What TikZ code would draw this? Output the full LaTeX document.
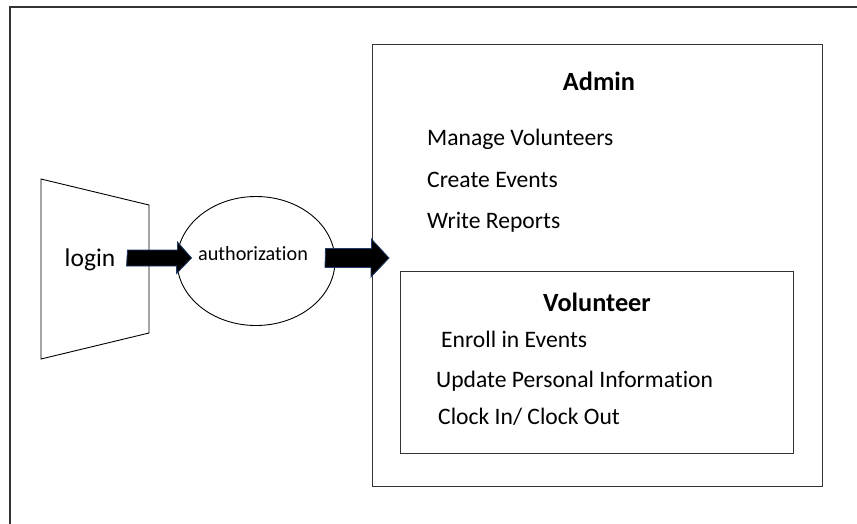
\documentclass[tikz,border=0pt]{standalone}
\usepackage{fontspec}
\setmainfont{Carlito}[RawFeature=-liga]
\usetikzlibrary{shapes.geometric,arrows.meta}
\definecolor{edge}{HTML}{333333}
\definecolor{navy}{HTML}{1F3A6B}
\tikzset{
  frame/.style={draw=edge, line width=1.5pt},
  boxline/.style={draw=edge, line width=1.3pt},
  thin/.style={draw=black, line width=0.9pt},
  item/.style={anchor=base west, inner sep=0pt, font=\fontsize{23.6}{27}\selectfont},
  title/.style={anchor=base, inner sep=0pt, font=\fontsize{26.3}{30}\selectfont\bfseries},
  bigarrow/.style={draw=navy, fill=black, line width=0.8pt},
}
\begin{document}
\begin{tikzpicture}[x=1pt,y=-1pt]
\useasboundingbox (0,0) rectangle (857,523);
% outer frame (cropped on right and bottom)
\draw[frame] (870,7) -- (10,7) -- (10,540);
% login trapezoid
\draw[thin] (41,179) -- (149,205) -- (149,333) -- (41,359) -- cycle;
\node[anchor=base, inner sep=0pt, font=\fontsize{25.5}{29}\selectfont] (login) at (90,266) {login};
% authorization ellipse
\node[ellipse, thin, minimum width=158pt, minimum height=129pt, inner sep=0pt] (auth) at (256,261) {};
\node[anchor=base, inner sep=0pt, font=\fontsize{20.2}{24}\selectfont] (authtext) at (253,260) {authorization};
% admin box
\node[boxline, rectangle, minimum width=450pt, minimum height=442pt, anchor=north west, inner sep=0pt] (admin) at (372,44) {};
\node[title] (admint) at (599,90) {Admin};
\node[item] (a1) at (427,145) {Manage Volunteers};
\node[item] (a2) at (427,187) {Create Events};
\node[item] (a3) at (427,228) {Write Reports};
% volunteer box
\node[boxline, rectangle, minimum width=393pt, minimum height=182pt, anchor=north west, inner sep=0pt] (vol) at (400,271) {};
\node[title] (volt) at (597,311) {Volunteer};
\node[item] (v1) at (441,347) {Enroll in Events};
\node[item] (v2) at (436,387) {Update Personal Information};
\node[item] (v3) at (438,424) {Clock In/ Clock Out};
% block arrows
\coordinate (p1) at ([xshift=12pt]login.east |- 0,258);
\coordinate (q1) at ([xshift=15pt]auth.west |- 0,258);
\draw[bigarrow] (p1) ++(0,-8) -- ++(50,0) -- ++(0,-8) -- (q1) -- ++(-15,15.5) -- ++(0,-7.5) -- ++(-50,0) -- cycle;
\coordinate (p2) at ([xshift=-10pt]auth.east |- 0,258);
\coordinate (q2) at ([xshift=17pt]admin.west |- 0,258);
\draw[bigarrow] (p2) ++(0,-9.5) -- ++(46,0) -- ++(0,-9.5) -- (q2) -- ++(-18,19) -- ++(0,-9.5) -- ++(-46,0) -- cycle;
\end{tikzpicture}
\end{document}
